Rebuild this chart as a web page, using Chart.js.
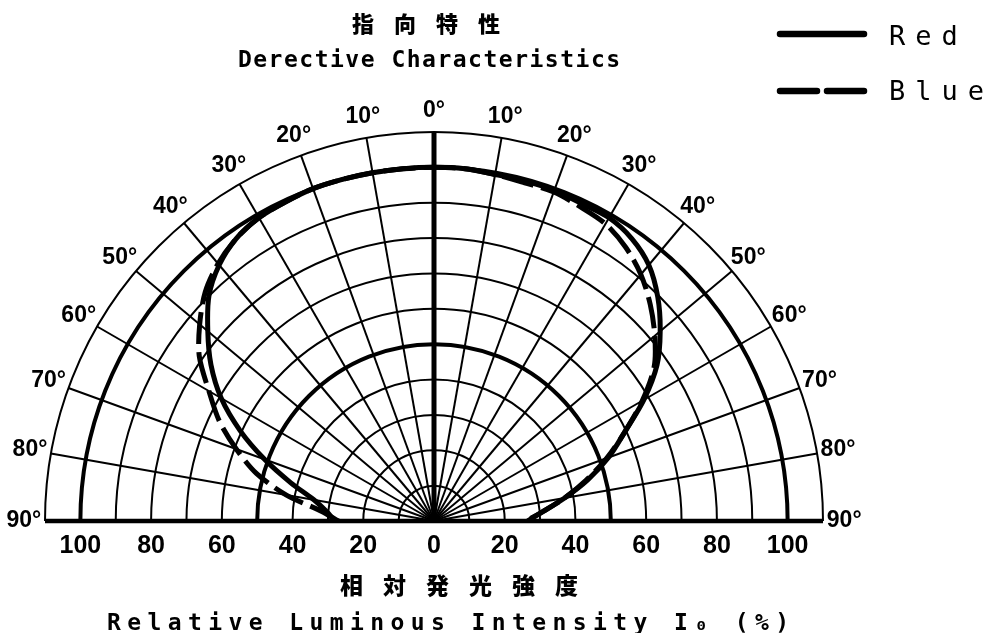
<!DOCTYPE html>
<html>
<head>
<meta charset="utf-8">
<script src="https://cdn.jsdelivr.net/npm/chart.js@4.4.1/dist/chart.umd.min.js"></script>
<style>
  html, body { margin: 0; padding: 0; background: #fff; }
  canvas { display: block; }
</style>
</head>
<body>
<canvas id="c" width="984" height="633"></canvas>
<script>
// ---- data (angle in degrees, relative intensity in %) ----
const angles = [-90, -85, -80, -75, -70, -65, -60, -55, -50, -45, -40, -35, -30, -25, -20, -15, -10, -5, 0,
                5, 10, 15, 20, 25, 30, 35, 40, 45, 50, 55, 60, 65, 70, 75, 80, 85, 90];
const redIntensity = [28, 30.5, 34.5, 42, 51, 60.5, 69.5, 77, 83.5, 90, 94.5, 97.5, 99, 99.5, 100, 100, 100, 100, 100,
                      100, 99.5, 99.5, 99.5, 99, 99, 97.5, 94.5, 89.5, 83.5, 77, 68.5, 59.5, 52.5, 45, 37.5, 31, 26.5];
const blueIntensity = [27, 32, 42.5, 52, 59.5, 67, 73.5, 81, 86.5, 91.5, 95, 97.5, 99, 99.5, 100, 100, 100, 100, 100,
                       100, 99.5, 99, 99, 98, 97, 94.5, 91, 86.5, 81.5, 76, 68, 59.5, 52, 44.5, 37.5, 31, 26];
const seriesNames = ['Red', 'Blue'];

// ---- axes / ticks ----
const intensityTicks = [-100, -80, -60, -40, -20, 0, 20, 40, 60, 80, 100];
const intensityTickLabels = ['100', '80', '60', '40', '20', '0', '20', '40', '60', '80', '100'];
const radialGrid = [10, 20, 30, 40, 50, 60, 70, 80, 90, 100, 110];
const angleGrid = [-90, -80, -70, -60, -50, -40, -30, -20, -10, 0, 10, 20, 30, 40, 50, 60, 70, 80, 90];
const angleTickLabels = ['90°', '80°', '70°', '60°', '50°', '40°', '30°', '20°', '10°', '0°',
                         '10°', '20°', '30°', '40°', '50°', '60°', '70°', '80°', '90°'];
const titleLines = ['指向特性', 'Derective Characteristics'];
const axisTitleLines = ['相対発光強度', 'Relative Luminous Intensity I₀ (%)'];

const DEG = Math.PI / 180;
function polarToXY(values) {
  return angles.map((a, i) => ({ x: values[i] * Math.sin(a * DEG), y: values[i] * Math.cos(a * DEG) }));
}

function spacedText(ctx, text, cx, baseY, font, spacing) {
  ctx.font = font;
  const ls = 'letterSpacing' in ctx;
  if (ls) ctx.letterSpacing = spacing + 'px';
  const w = ctx.measureText(text).width - (ls ? spacing : 0);
  ctx.textAlign = 'left';
  ctx.textBaseline = 'alphabetic';
  ctx.fillText(text, cx - w / 2, baseY);
  if (ls) ctx.letterSpacing = '0px';
}

const polarGrid = {
  id: 'polarGrid',
  beforeDatasetsDraw(chart) {
    const { ctx, scales: { x, y } } = chart;
    const cx = x.getPixelForValue(0), cy = y.getPixelForValue(0);
    const rx = r => x.getPixelForValue(r) - cx;
    const ry = r => cy - y.getPixelForValue(r);
    ctx.save();
    ctx.strokeStyle = '#000';
    ctx.fillStyle = '#000';
    radialGrid.forEach(r => {
      ctx.beginPath();
      ctx.lineWidth = (r === 50 || r === 100) ? 4 : 2;
      ctx.ellipse(cx, cy, rx(r), ry(r), 0, Math.PI, 2 * Math.PI);
      ctx.stroke();
    });
    const rMax = radialGrid[radialGrid.length - 1];
    angleGrid.forEach(a => {
      const t = a * DEG;
      ctx.beginPath();
      ctx.lineWidth = a === 0 ? 5 : (Math.abs(a) === 90 ? 4.5 : 2);
      ctx.moveTo(cx, cy);
      ctx.lineTo(x.getPixelForValue(rMax * Math.sin(t)), y.getPixelForValue(rMax * Math.cos(t)));
      ctx.stroke();
    });
    // angle labels
    ctx.font = 'bold 23px "Liberation Sans", Arial, sans-serif';
    ctx.textAlign = 'center';
    ctx.textBaseline = 'middle';
    const rLab = 116;
    angleGrid.forEach((a, i) => {
      const t = a * DEG;
      ctx.fillText(angleTickLabels[i], x.getPixelForValue(rLab * Math.sin(t)), y.getPixelForValue(rLab * Math.cos(t)));
    });
    ctx.restore();
  }
};

const textAndLegend = {
  id: 'textAndLegend',
  afterDraw(chart) {
    const { ctx } = chart;
    ctx.save();
    ctx.fillStyle = '#000';
    spacedText(ctx, titleLines[0], 426, 31.5, '900 22px "Noto Sans CJK JP"', 20);
    spacedText(ctx, titleLines[1], 429, 67, 'bold 23px "DejaVu Sans Mono", monospace', 1.5);
    spacedText(ctx, axisTitleLines[0], 459, 594, '900 23px "Noto Sans CJK JP"', 20);
    spacedText(ctx, axisTitleLines[1], 448, 630, 'bold 23px "DejaVu Sans Mono", monospace', 6.4);

    // legend
    const rows = [34, 91];
    const bases = [45, 100];
    chart.data.datasets.forEach((ds, i) => {
      ctx.save();
      ctx.strokeStyle = '#000';
      ctx.lineWidth = 6.5;
      ctx.lineCap = 'round';
      ctx.setLineDash(ds.borderDash && ds.borderDash.length ? [37, 10] : []);
      ctx.beginPath();
      ctx.moveTo(780, rows[i]);
      ctx.lineTo(864, rows[i]);
      ctx.stroke();
      ctx.restore();
      ctx.font = '27px "DejaVu Sans Mono", monospace';
      if ('letterSpacing' in ctx) ctx.letterSpacing = '10px';
      ctx.textAlign = 'left';
      ctx.textBaseline = 'alphabetic';
      ctx.fillText(ds.label, 889, bases[i]);
      if ('letterSpacing' in ctx) ctx.letterSpacing = '0px';
    });
    ctx.restore();
  }
};

new Chart(document.getElementById('c'), {
  type: 'scatter',
  data: {
    datasets: [
      { label: seriesNames[0], data: polarToXY(redIntensity), showLine: true, borderColor: '#000',
        backgroundColor: '#000', borderWidth: 5, pointRadius: 0, tension: 0.3, fill: false },
      { label: seriesNames[1], data: polarToXY(blueIntensity), showLine: true, borderColor: '#000',
        backgroundColor: '#000', borderWidth: 5, borderDash: [32, 8], pointRadius: 0, tension: 0.3, fill: false }
    ]
  },
  options: {
    responsive: false,
    animation: false,
    events: [],
    layout: { padding: { left: 45, right: 161, top: 132, bottom: 62 } },
    scales: {
      x: {
        type: 'linear', min: -110, max: 110,
        grid: { display: false, drawTicks: false },
        border: { display: false },
        afterBuildTicks: axis => { axis.ticks = intensityTicks.map(v => ({ value: v })); },
        ticks: {
          autoSkip: false, maxRotation: 0, minRotation: 0, padding: 10, color: '#000',
          font: { family: '"Liberation Sans", Arial, sans-serif', size: 25, weight: 'bold', lineHeight: 1.2 },
          callback: (v, i) => intensityTickLabels[i]
        }
      },
      y: { type: 'linear', min: 0, max: 110, display: false }
    },
    plugins: {
      legend: { display: false },
      title: { display: false },
      tooltip: { enabled: false }
    }
  },
  plugins: [polarGrid, textAndLegend]
});
</script>
</body>
</html>
